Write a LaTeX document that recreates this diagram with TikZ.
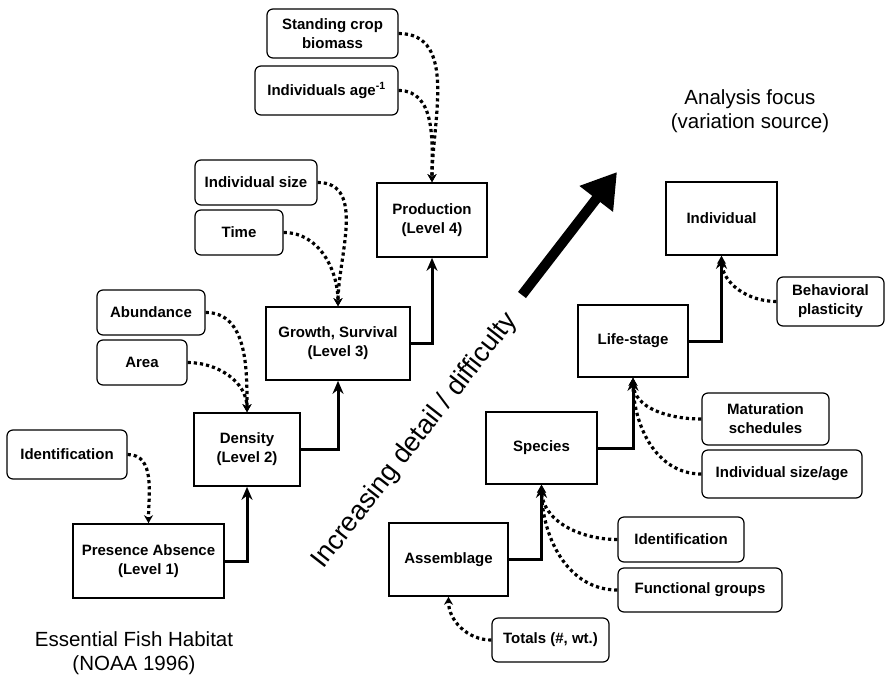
\documentclass[tikz,border=0pt]{standalone}
\usepackage{fontspec}
\setmainfont{Liberation Sans}
\usetikzlibrary{arrows.meta}

\begin{document}
\begin{tikzpicture}[x=1pt,y=-1pt,
lvl/.style={draw,line width=1.6pt,font=\bfseries\fontsize{15}{19}\selectfont,align=center,inner sep=0pt},
fac/.style={lvl,rounded corners=6pt,line width=1.2pt},
rise/.style={line width=3pt,-{Stealth[length=13pt,width=11pt]}},
feed/.style={line width=3.2pt,dash pattern=on 3.2pt off 3pt,-{Stealth[length=8pt,width=9pt]}},
big/.style={font=\fontsize{20.5}{24}\selectfont,align=center}]
\useasboundingbox (0,0) rectangle (885,677);
% Essential Fish Habitat levels
\node[fac,minimum width=131pt,minimum height=49pt](sc) at (332.5,33.5){Standing crop\\biomass};
\node[fac,minimum width=143pt,minimum height=49pt](ia) at (326.5,90.5){Individuals age\textsuperscript{-1}};
\node[lvl,minimum width=110pt,minimum height=74pt](prod) at (432,220){Production\\(Level 4)};
\node[fac,minimum width=122pt,minimum height=45pt](isz) at (256,182.5){Individual size};
\node[fac,minimum width=88pt,minimum height=45pt](time) at (239,232.5){Time};
\node[lvl,minimum width=144pt,minimum height=73pt](grow) at (338,343.5){Growth, Survival\\(Level 3)};
\node[fac,minimum width=108pt,minimum height=45pt](abun) at (151,312.5){Abundance};
\node[fac,minimum width=90pt,minimum height=45pt](area) at (142,362.5){Area};
\node[lvl,minimum width=106pt,minimum height=73pt](dens) at (247,449.5){Density\\(Level 2)};
\node[fac,minimum width=120pt,minimum height=49pt](idl) at (67,454.5){Identification};
\node[lvl,minimum width=151pt,minimum height=74pt](pres) at (148.5,561){Presence Absence\\(Level 1)};
\node[big](efh) at (134,653){Essential Fish Habitat\\(NOAA 1996)};
% analysis focus
\node[lvl,minimum width=111pt,minimum height=73pt](indiv) at (721.5,218.5){Individual};
\node[fac,minimum width=107pt,minimum height=49pt](beh) at (830.5,301.5){Behavioral\\plasticity};
\node[lvl,minimum width=110pt,minimum height=72pt](life) at (633,341){Life-stage};
\node[fac,minimum width=127pt,minimum height=52pt](mat) at (765.5,419){Maturation\\schedules};
\node[fac,minimum width=160pt,minimum height=48pt](isa) at (782,474){Individual size/age};
\node[lvl,minimum width=111pt,minimum height=72pt](spec) at (541.5,448){Species};
\node[fac,minimum width=126pt,minimum height=45pt](idr) at (681,539.5){Identification};
\node[fac,minimum width=164pt,minimum height=44pt](fun) at (700,590){Functional groups};
\node[lvl,minimum width=119pt,minimum height=73pt](asm) at (448.5,559.5){Assemblage};
\node[fac,minimum width=117pt,minimum height=44pt](tot) at (550.5,640){Totals (\#, wt.)};
\node[big](af) at (750,111){Analysis focus\\(variation source)};
% steps
\draw[rise](pres.east)-|(dens.south);
\draw[rise](dens.east)-|(grow.south);
\draw[rise](grow.east)-|(prod.south);
\draw[rise](asm.east)-|(spec.south);
\draw[rise](spec.east)-|(life.south);
\draw[rise](life.east)-|(indiv.south);
% inputs
\draw[feed](idl.east)to[out=0,in=90](pres.north);
\draw[feed](abun.east)to[out=0,in=90](dens.north);
\draw[feed](area.east)to[out=0,in=90](dens.north);
\draw[feed](isz.east)to[out=0,in=90](grow.north);
\draw[feed](time.east)to[out=0,in=90](grow.north);
\draw[feed](sc.east)to[out=0,in=90](prod.north);
\draw[feed](ia.east)to[out=0,in=90](prod.north);
\draw[feed](tot.west)to[out=180,in=-90](asm.south);
\draw[feed](idr.west)to[out=180,in=-90](spec.south);
\draw[feed](fun.west)to[out=180,in=-90](spec.south);
\draw[feed](mat.west)to[out=180,in=-90](life.south);
\draw[feed](isa.west)to[out=180,in=-90](life.south);
\draw[feed](beh.west)to[out=180,in=-90](indiv.south);
% trend
\coordinate (fa) at (522,295);
\coordinate (fb) at (617,172);
\draw[line width=10pt,-{Triangle[length=34pt,width=40pt]}](fa)--(fb);
\node[font=\fontsize{27}{31}\selectfont,rotate=52](trend) at (415,441){Increasing detail / difficulty};
\end{tikzpicture}
\end{document}
